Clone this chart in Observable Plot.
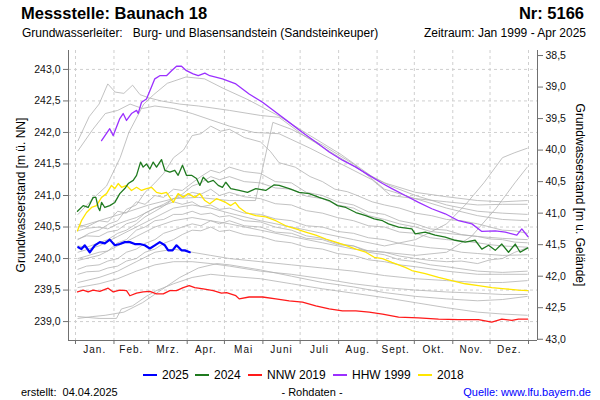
<!DOCTYPE html>
<html><head><meta charset="utf-8">
<script src="https://cdn.jsdelivr.net/npm/d3@7"></script>
<script src="https://cdn.jsdelivr.net/npm/@observablehq/plot@0.6"></script>
<style>
body{margin:0;background:#fff;font-family:"Liberation Sans",Arial,sans-serif;}
#wrap{position:relative;width:600px;height:400px;overflow:hidden;background:#fff;}
.t{position:absolute;white-space:pre;color:#000;line-height:1;}
#chart{position:absolute;left:0;top:40px;}
.sw{position:absolute;height:2px;width:14px;}
</style></head><body>
<div id="wrap">
  <div class="t" style="left:21px;top:5px;font-size:16.5px;font-weight:bold">Messstelle: Baunach 18</div>
  <div class="t" style="right:16px;top:5px;font-size:16.5px;font-weight:bold">Nr: 5166</div>
  <div class="t" style="left:22px;top:27px;font-size:12px">Grundwasserleiter:   Burg- und Blasensandstein (Sandsteinkeuper)</div>
  <div class="t" style="right:14px;top:27px;font-size:12px">Zeitraum: Jan 1999 - Apr 2025</div>
  <div id="chart"></div>
  <div class="t" style="left:-129px;top:189px;width:300px;text-align:center;font-size:12px;transform:rotate(-90deg)">Grundwasserstand [m ü. NN]</div>
  <div class="t" style="left:430px;top:189px;width:300px;text-align:center;font-size:12px;transform:rotate(90deg)">Grundwasserstand [m u. Gelände]</div>
  <div id="legend"></div>
  <div class="t" style="left:21px;top:387px;font-size:11px">erstellt:  04.04.2025</div>
  <div class="t" style="left:262px;top:387px;width:100px;text-align:center;font-size:11px">- Rohdaten -</div>
  <div class="t" style="right:9px;top:387px;font-size:11px;color:#0000ff">Quelle: www.lfu.bayern.de</div>
</div>
<script>
// ---------- axis / tick data ----------
const levelTicks = [239.0, 239.5, 240.0, 240.5, 241.0, 241.5, 242.0, 242.5, 243.0];
const depthTicks = [38.5, 39.0, 39.5, 40.0, 40.5, 41.0, 41.5, 42.0, 42.5, 43.0];
const groundLevel = 281.72;
const monthStarts = [1, 32, 60, 91, 121, 152, 182, 213, 244, 274, 305, 335, 366];
const monthLabels = ["Jan.", "Feb.", "Mrz.", "Apr.", "Mai", "Juni", "Juli", "Aug.", "Sept.", "Okt.", "Nov.", "Dez."];
const xDomain = [-4.64, 373.25];
const yDomain = [238.70, 243.30];

// ---------- highlighted series: [day of year, level m ü. NN] ----------
const y2025 = [[3.2,240.18],[5.8,240.15],[8.5,240.21],[12.5,240.10],[16.6,240.21],[20.6,240.26],[24.6,240.24],[28.6,240.30],[32.7,240.21],[36.7,240.23],[40.7,240.26],[44.8,240.26],[48.8,240.23],[52.8,240.23],[56.8,240.21],[60.9,240.16],[64.9,240.21],[68.9,240.26],[73,240.21],[75.7,240.13],[79.2,240.13],[82.4,240.21],[86.4,240.13],[89.1,240.13],[93.1,240.10]];
const y2024 = [[2.6,240.75],[7.2,240.84],[11.2,240.81],[15.2,240.97],[17.4,240.97],[19.3,240.81],[20.6,240.76],[22,240.89],[24.6,240.81],[28.6,240.84],[32.7,240.89],[36.7,241.03],[40.7,241.11],[43.5,241.19],[47.5,241.24],[50.2,241.32],[53.4,241.53],[55.5,241.45],[58.2,241.50],[60.9,241.42],[63.6,241.53],[66.3,241.45],[70.3,241.57],[73,241.40],[77,241.37],[81,241.40],[83.7,241.32],[87.2,241.48],[90.4,241.32],[94.5,241.32],[98.5,241.27],[101.2,241.16],[103.9,241.29],[107.9,241.21],[112,241.24],[116,241.16],[119.4,241.13],[122.1,241.21],[126.1,241.11],[132.9,241.08],[139.6,241.05],[146.3,241.11],[154.3,241.08],[161.1,241.17],[165.1,241.16],[173.2,241.11],[181.2,241.05],[189.3,241.03],[197.3,240.97],[205.4,240.92],[212.1,240.84],[218.8,240.81],[226.9,240.73],[234.9,240.68],[241.7,240.63],[248.4,240.60],[253.2,240.55],[261.3,240.50],[272,240.47],[274.7,240.39],[282.8,240.42],[290.8,240.37],[298.9,240.34],[306.9,240.29],[315,240.26],[323,240.29],[328.4,240.15],[333.8,240.21],[339.2,240.13],[344.5,240.23],[349.9,240.10],[355.3,240.23],[359.3,240.10],[365.4,240.17]];
const nnw2019 = [[2.6,239.47],[7.2,239.50],[11.2,239.47],[15.2,239.50],[20.6,239.48],[27.3,239.53],[31.4,239.47],[36.7,239.50],[42.1,239.49],[44.8,239.41],[50.2,239.45],[55.5,239.47],[60.9,239.48],[66.3,239.44],[71.7,239.44],[77,239.49],[82.4,239.49],[87.8,239.54],[92.6,239.57],[97.1,239.54],[103.9,239.52],[112,239.49],[118.6,239.45],[122.7,239.46],[130.2,239.41],[132.9,239.36],[140.9,239.39],[151.7,239.39],[162.4,239.36],[173.2,239.33],[183.9,239.31],[194.6,239.25],[205.4,239.20],[216.1,239.17],[226.9,239.17],[237.6,239.15],[248.4,239.12],[261.3,239.07],[277.4,239.06],[293.5,239.04],[309.6,239.03],[325.7,239.03],[336.4,238.99],[344.5,239.04],[352.6,239.02],[357.9,239.04],[365.4,239.04]];
const hhw1999 = [[22,241.87],[28.6,242.06],[31.4,241.95],[36.7,242.22],[39.4,242.30],[42.1,242.19],[46.1,242.30],[50.2,242.35],[51.5,242.30],[54.2,242.48],[58.2,242.53],[62.2,242.72],[64.9,242.85],[68.9,242.90],[74.3,242.90],[78.4,242.98],[82.4,243.05],[86.4,243.05],[90.4,242.98],[95.8,242.93],[99.9,242.90],[105.2,242.94],[109.2,242.90],[119.4,242.85],[130.2,242.77],[140.9,242.61],[151.7,242.48],[162.4,242.32],[173.2,242.16],[183.9,242.00],[194.6,241.85],[205.4,241.69],[216.1,241.56],[226.9,241.45],[237.6,241.32],[248.4,241.19],[255.9,241.11],[266.7,241.00],[277.4,240.89],[288.1,240.79],[298.9,240.71],[309.6,240.60],[320.4,240.55],[328.4,240.43],[339.2,240.44],[347.3,240.42],[356.6,240.37],[360.6,240.47],[365.5,240.35]];
const y2018 = [[2.6,240.44],[5.8,240.60],[9.9,240.73],[13.9,240.81],[17.9,240.84],[22,240.97],[26,241.03],[30,241.16],[32.7,241.11],[35.4,241.19],[38.1,241.13],[42.1,241.16],[46.1,241.08],[50.2,241.13],[54.2,241.08],[58.2,241.11],[62.2,241.13],[66.3,241.05],[70.3,241.03],[74.3,241.05],[79.7,240.89],[83.7,241.03],[87.8,240.97],[91.8,241.03],[97.1,240.97],[101.2,241.03],[105.2,240.92],[109.2,240.87],[114.6,240.95],[118.6,240.92],[122.1,240.89],[126.1,240.84],[129.7,240.89],[132.9,240.81],[138.3,240.73],[146.3,240.68],[154.3,240.66],[162.4,240.60],[170.4,240.52],[178.5,240.47],[186.5,240.42],[194.6,240.37],[202.7,240.31],[210.7,240.26],[218.8,240.21],[226.9,240.15],[234.9,240.10],[241.7,240.02],[248.4,240.00],[255.9,239.94],[266.7,239.86],[272,239.81],[282.8,239.76],[293.5,239.70],[304.2,239.65],[315,239.60],[325.7,239.57],[336.4,239.54],[347.2,239.52],[357.9,239.50],[365.4,239.49]];

// ---------- other years (grey) ----------
const g1 = [[3,241.87],[12,242.25],[20,242.45],[27,242.77],[33,242.64],[40,242.62],[47,242.75],[53,242.6],[60,242.55],[70,242.5],[85,242.45],[100,242.42],[125,242.35],[150,242.27],[165,242.24],[185,241.95],[210,241.65],[235,241.35],[250,241.2],[275,241.05],[300,240.98],[325,240.92],[345,240.9],[365,240.92]];
const g2 = [[3,241.71],[15,242.05],[25,242.3],[35,242.35],[45,242.45],[55,242.38],[65,242.42],[80,242.38],[95,242.3],[110,242.2],[125,242.1],[145,242.0],[165,241.98],[190,241.75],[215,241.5],[240,241.25],[255,241.0],[275,240.95],[300,240.9],[325,240.85],[345,240.86],[365,240.86]];
const g3 = [[3,240.7],[15,240.95],[26,241.15],[37,241.6],[44,242.0],[56,242.45],[64,242.6],[75,242.78],[90,242.88],[105,242.85],[120,242.7],[140,242.52],[165,242.26],[190,241.95],[215,241.65],[240,241.3],[255,241.15],[275,241.0],[300,240.85],[325,240.75],[345,240.72],[365,240.7]];
const g4 = [[3,240.5],[20,240.6],[40,240.72],[60,240.85],[80,240.95],[100,240.97],[125,240.92],[146,240.92],[160,242.16],[175,242.05],[200,241.8],[225,241.5],[250,241.1],[275,240.95],[300,240.8],[325,240.68],[345,240.62],[365,240.6]];
const g5 = [[3,240.3],[12,240.4],[20,240.45],[28,240.55],[35,240.6],[42,240.78],[50,240.85],[57,241.05],[65,241.2],[72,241.35],[80,241.6],[88,241.72],[95,241.95],[102,241.98],[110,242.1],[118,242.02],[125,242.05],[137,241.92],[150,241.85],[158,241.7],[165,241.52],[178,241.45],[190,241.3],[200,241.22],[210,241.1],[220,241.06],[228,241.0],[240,240.9],[250,240.85],[262,240.8],[275,240.72],[288,240.68],[300,240.62],[312,240.6],[325,240.55],[335,240.5],[345,240.45],[355,240.44],[365,240.4]];
const g6 = [[3,240.54],[10,240.5],[20,240.6],[27,240.58],[35,240.75],[42,240.72],[50,240.9],[57,240.86],[65,241.0],[72,240.97],[80,241.1],[87,241.08],[95,241.2],[102,241.3],[110,241.4],[117,241.36],[125,241.45],[137,241.38],[150,241.35],[162,241.22],[175,241.2],[187,241.05],[200,241.0],[212,240.9],[225,240.85],[237,240.74],[250,240.7],[262,240.6],[275,240.55],[287,240.47],[300,240.45],[312,240.38],[325,240.35],[335,240.31],[345,240.3],[355,240.26],[365,240.25]];
const g7 = [[3,240.44],[10,240.48],[20,240.5],[27,240.47],[35,240.55],[42,240.6],[50,240.65],[57,240.72],[65,240.8],[72,240.86],[80,240.95],[87,240.98],[95,241.05],[102,241.02],[110,241.1],[117,241.0],[125,241.05],[137,240.98],[150,240.95],[162,240.87],[175,240.85],[187,240.76],[200,240.72],[212,240.65],[225,240.6],[237,240.52],[250,240.5],[262,240.42],[275,240.4],[287,240.33],[300,240.3],[312,240.28],[325,240.25],[335,240.22],[345,240.2],[365,240.18]];
const g8 = [[3,240.31],[10,240.36],[20,240.35],[27,240.42],[35,240.45],[42,240.55],[50,240.6],[57,240.72],[65,240.8],[72,240.84],[80,240.9],[87,240.86],[95,240.9],[102,240.82],[110,240.85],[117,240.78],[125,240.8],[137,240.72],[150,240.7],[162,240.63],[175,240.6],[187,240.52],[200,240.5],[212,240.43],[225,240.4],[237,240.33],[250,240.3],[262,240.24],[275,240.2],[287,240.17],[300,240.15],[312,240.1],[325,240.08],[345,240.05],[365,240.06]];
const g9 = [[3,240.1],[20,240.2],[35,240.35],[50,240.5],[65,240.65],[80,240.8],[95,240.85],[110,240.8],[125,240.72],[150,240.6],[175,240.5],[200,240.4],[225,240.3],[250,240.2],[275,240.3],[300,240.55],[315,240.85],[330,241.2],[345,241.6],[355,241.68],[365,241.75]];
const g10 = [[3,239.97],[20,240.05],[35,240.2],[50,240.35],[65,240.5],[80,240.6],[95,240.65],[110,240.6],[125,240.55],[150,240.45],[175,240.35],[200,240.25],[225,240.15],[250,240.1],[275,240.05],[300,240.1],[320,240.35],[340,240.8],[355,241.2],[365,241.45]];
const g11 = [[3,239.83],[10,239.88],[20,239.9],[27,239.96],[35,240.0],[42,240.1],[50,240.15],[57,240.24],[65,240.3],[72,240.4],[80,240.45],[87,240.5],[95,240.55],[102,240.52],[110,240.6],[117,240.55],[125,240.6],[137,240.52],[150,240.5],[162,240.42],[175,240.4],[187,240.32],[200,240.3],[212,240.22],[225,240.2],[237,240.12],[250,240.1],[262,240.04],[275,240.0],[287,239.97],[300,239.95],[312,239.96],[325,239.92],[335,239.98],[345,240.0],[355,240.1],[365,240.17]];
const g12 = [[3,239.75],[10,239.79],[20,239.8],[27,239.85],[35,239.88],[42,239.96],[50,240.0],[57,240.1],[65,240.15],[72,240.24],[80,240.3],[87,240.38],[95,240.45],[102,240.44],[110,240.5],[117,240.43],[125,240.45],[137,240.38],[150,240.35],[162,240.28],[175,240.25],[187,240.18],[200,240.15],[212,240.08],[225,240.05],[237,239.98],[250,239.95],[262,239.9],[275,239.87],[300,239.8],[325,239.75],[345,239.75],[365,239.75]];
const g13 = [[3,239.62],[20,239.7],[35,239.8],[50,239.95],[65,240.1],[80,240.15],[95,240.1],[110,240.05],[125,240.0],[150,239.95],[175,239.9],[200,239.85],[225,239.8],[250,239.73],[275,239.68],[300,239.65],[325,239.62],[345,239.62],[365,239.65]];
const g14 = [[3,239.54],[20,239.6],[35,239.68],[50,239.8],[65,239.9],[80,239.95],[95,239.95],[110,239.92],[125,239.88],[150,239.8],[175,239.75],[200,239.68],[225,239.6],[250,239.54],[275,239.5],[300,239.47],[325,239.45],[345,239.43],[365,239.43]];
const g15 = [[3,239.08],[20,239.05],[34,239.05],[38,239.2],[47,239.25],[58,239.4],[66,239.49],[80,239.6],[95,239.7],[110,239.75],[125,239.72],[150,239.68],[175,239.6],[200,239.52],[225,239.45],[250,239.38],[275,239.3],[300,239.22],[325,239.15],[345,239.12],[365,239.1]];
const g16 = [[3,239.05],[15,239.08],[25,239.1],[40,239.15],[55,239.3],[70,239.5],[85,239.7],[100,239.85],[115,239.92],[125,239.9],[150,239.82],[175,239.72],[200,239.62],[225,239.55],[250,239.46],[275,239.4],[300,239.36],[325,239.33],[345,239.35],[365,239.4]];
const g17 = [[3,240.2],[10,240.18],[20,240.25],[27,240.3],[35,240.4],[42,240.45],[50,240.55],[57,240.66],[65,240.75],[72,240.83],[80,240.95],[87,241.02],[95,241.15],[102,241.2],[110,241.3],[117,241.25],[125,241.3],[137,241.22],[150,241.2],[162,241.12],[175,241.1],[187,240.99],[200,240.95],[212,240.85],[225,240.8],[237,240.68],[250,240.62],[262,240.55],[275,240.5],[287,240.43],[300,240.4],[325,240.35],[345,240.32],[365,240.3]];
const g18 = [[3,240.0],[10,240.04],[20,240.1],[27,240.12],[35,240.25],[42,240.3],[50,240.45],[57,240.5],[65,240.6],[72,240.62],[80,240.7],[87,240.7],[95,240.75],[102,240.7],[110,240.72],[117,240.66],[125,240.68],[137,240.6],[150,240.58],[162,240.5],[175,240.45],[187,240.36],[200,240.32],[212,240.24],[225,240.2],[237,240.1],[250,240.06],[262,239.98],[275,239.95],[287,239.9],[300,239.87],[325,239.8],[345,239.78],[365,239.8]];

const greySeries = [g1,g2,g3,g4,g5,g6,g7,g8,g9,g10,g11,g12,g13,g14,g15,g16,g17,g18];
const highlight = [
  {name:"2018", data:y2018, color:"#ffe600", width:1.3},
  {name:"NNW 2019", data:nnw2019, color:"#ff1a1a", width:1.3},
  {name:"HHW 1999", data:hhw1999, color:"#9b30ff", width:1.3},
  {name:"2024", data:y2024, color:"#1f7a1f", width:1.3},
  {name:"2025", data:y2025, color:"#0000ff", width:2.2}
];
const legendOrder = ["2025","2024","NNW 2019","HHW 1999","2018"];
const legendX = [143, 195, 248, 333, 418];

const toRows = (id, pairs) => pairs.map(([day, level]) => ({id, day, level}));
const greyRows = greySeries.flatMap((s, i) => toRows("g" + i, s));
const monthMids = monthLabels.map((_, i) => (monthStarts[i] + monthStarts[i + 1]) / 2);
const comma = v => v.toFixed(1).replace(".", ",");
const gridStyle = {stroke: "#cfcfcf", strokeOpacity: 1, strokeDasharray: "3,3", strokeWidth: 1};
const axisColor = "#707070";

const marks = [
  Plot.gridY(levelTicks, gridStyle),
  Plot.gridX(monthStarts, gridStyle),
  Plot.line(greyRows, {x: "day", y: "level", z: "id", stroke: "#b3b3b3", strokeWidth: 0.8}),
  ...highlight.map(h => Plot.line(toRows(h.name, h.data), {x: "day", y: "level", stroke: h.color, strokeWidth: h.width})),
  Plot.ruleX([xDomain[0]], {stroke: axisColor}),
  Plot.ruleX([xDomain[1]], {stroke: axisColor}),
  Plot.ruleY([yDomain[0]], {stroke: axisColor}),
  Plot.axisY(levelTicks, {anchor: "left", tickSize: 5, tickPadding: 3, stroke: axisColor, fill: "#111", fontSize: 10.5, tickFormat: comma, label: null}),
  Plot.axisY(depthTicks.map(d => groundLevel - d), {anchor: "right", tickSize: 5, tickPadding: 3, stroke: axisColor, fill: "#111", fontSize: 10.5, tickFormat: v => comma(Math.round((groundLevel - v) * 10) / 10), label: null}),
  Plot.axisX(monthStarts, {anchor: "bottom", tickSize: 4, stroke: axisColor, tickFormat: () => "", label: null}),
  Plot.text(monthLabels, {x: (d, i) => monthMids[i], frameAnchor: "bottom", dy: 12, fontSize: 10, fill: "#111", text: d => d})
];

const chart = Plot.plot({
  width: 600, height: 325,
  marginLeft: 68, marginRight: 63, marginTop: 10, marginBottom: 25,
  x: {domain: xDomain},
  y: {domain: yDomain},
  style: {fontFamily: "'Liberation Sans', Arial, sans-serif", background: "transparent", overflow: "visible"},
  marks
});
chart.querySelectorAll("text").forEach(t => { if (monthLabels.includes(t.textContent)) t.setAttribute("letter-spacing", "1"); });
document.getElementById("chart").appendChild(chart);

// legend
const leg = document.getElementById("legend");
legendOrder.forEach((name, i) => {
  const h = highlight.find(d => d.name === name);
  const sw = document.createElement("div");
  sw.className = "sw";
  sw.style.left = legendX[i] + "px"; sw.style.top = "374px"; sw.style.background = h.color;
  leg.appendChild(sw);
  const tx = document.createElement("div");
  tx.className = "t";
  tx.style.left = (legendX[i] + 19) + "px"; tx.style.top = "369px"; tx.style.fontSize = "12px";
  tx.textContent = name;
  leg.appendChild(tx);
});
</script>
</body></html>
